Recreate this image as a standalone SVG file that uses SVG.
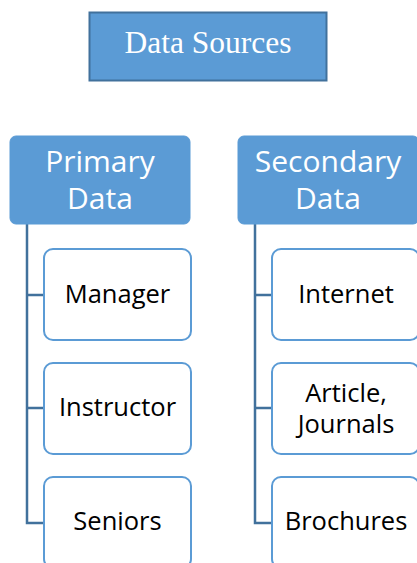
<svg xmlns="http://www.w3.org/2000/svg" width="417" height="563" viewBox="0 0 417 563">
  <style>
    .root { fill: #5b9bd5; stroke: #41719c; stroke-width: 2; }
    .head { fill: #5b9bd5; stroke: #5b9bd5; stroke-width: 1; }
    .leaf { fill: #ffffff; stroke: #5b9bd5; stroke-width: 2; }
    .conn { fill: none; stroke: #41719c; stroke-width: 2.5; }
    .t-root { font-family: "Liberation Serif", "Times New Roman", serif; font-size: 31.5px; fill: #ffffff; text-anchor: middle; }
    .t-head { font-family: "Open Sans", "Noto Sans", sans-serif; font-size: 30px; fill: #ffffff; text-anchor: middle; }
    .t-leaf { font-family: "Open Sans", "Noto Sans", sans-serif; font-size: 25.5px; fill: #000000; text-anchor: middle; }
  </style>
  <rect width="417" height="563" fill="#ffffff"/>

  <!-- tree lines from each category to its items -->
  <g id="connectors">
    <path class="conn" d="M27,224 V523 H44 M27,295 H44 M27,408 H44"/>
    <path class="conn" d="M255,224 V523 H272 M255,295 H272 M255,408 H272"/>
  </g>

  <g id="data-sources">
    <rect class="root" x="89.5" y="12.5" width="237" height="68"/>
    <text class="t-root" x="208" y="53">Data Sources</text>
  </g>

  <g id="primary-data">
    <rect class="head" x="10" y="136" width="180" height="88" rx="6"/>
    <text class="t-head" x="100" y="172">Primary</text>
    <text class="t-head" x="100" y="209">Data</text>
  </g>

  <g id="secondary-data">
    <rect class="head" x="238" y="136" width="181" height="88" rx="6"/>
    <text class="t-head" x="328" y="172">Secondary</text>
    <text class="t-head" x="328" y="209">Data</text>
  </g>

  <g id="manager">
    <rect class="leaf" x="44" y="249" width="147" height="91" rx="9"/>
    <text class="t-leaf" x="117.5" y="303">Manager</text>
  </g>
  <g id="instructor">
    <rect class="leaf" x="44" y="363" width="147" height="91" rx="9"/>
    <text class="t-leaf" x="117.5" y="416">Instructor</text>
  </g>
  <g id="seniors">
    <rect class="leaf" x="44" y="477" width="147" height="91" rx="9"/>
    <text class="t-leaf" x="117.5" y="530">Seniors</text>
  </g>

  <g id="internet">
    <rect class="leaf" x="272" y="249" width="147" height="91" rx="9"/>
    <text class="t-leaf" x="346" y="303">Internet</text>
  </g>
  <g id="articles-journals">
    <rect class="leaf" x="272" y="363" width="147" height="91" rx="9"/>
    <text class="t-leaf" x="346" y="401.5">Article,</text>
    <text class="t-leaf" x="346" y="432.5">Journals</text>
  </g>
  <g id="brochures">
    <rect class="leaf" x="272" y="477" width="147" height="91" rx="9"/>
    <text class="t-leaf" x="346" y="530">Brochures</text>
  </g>
</svg>
